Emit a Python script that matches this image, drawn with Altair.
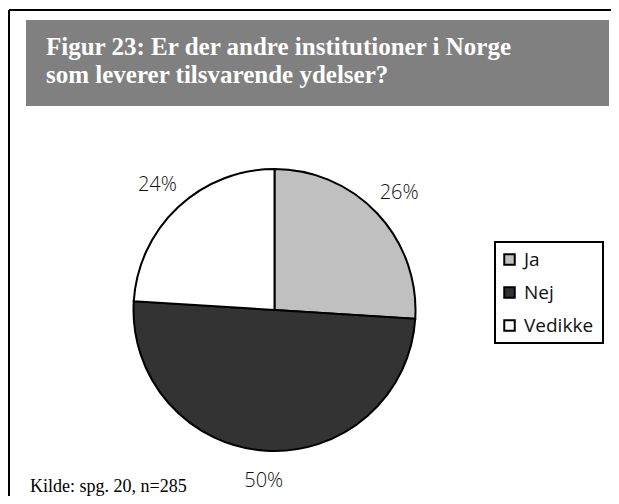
import altair as alt
import pandas as pd

categories = ["Ja", "Nej", "Vedikke"]
values = [26, 50, 24]
labels = ["26%", "50%", "24%"]
colors = ["#c0c0c0", "#333333", "#ffffff"]

title_lines = ["Figur 23: Er der andre institutioner i Norge",
               "som leverer tilsvarende ydelser?"]
source_text = "Kilde: spg. 20, n=285"

df = pd.DataFrame({
    "category": categories,
    "value": values,
    "label": labels,
    "idx": list(range(len(categories))),
})

W, H = 603, 488
CX, CY, R = 266.5, 302, 141

base = alt.Chart(df).encode(
    theta=alt.Theta("value:Q", stack=True),
    order=alt.Order("idx:Q"),
)

pie = base.mark_arc(radius=R, stroke="black", strokeWidth=2).encode(
    x=alt.value(CX),
    y=alt.value(CY),
    color=alt.Color(
        "category:N",
        scale=alt.Scale(domain=categories, range=colors),
        legend=alt.Legend(
            orient="none", legendX=492, legendY=242, title=None,
            symbolType="square", symbolSize=110, symbolStrokeColor="black",
            symbolStrokeWidth=2, symbolOpacity=1,
            labelFont="Open Sans", labelFontSize=19, labelColor="#111111",
            labelOffset=5, rowPadding=13, padding=0,
        ),
    ),
)

pct = base.mark_text(radius=171, font="Open Sans", fontSize=20, fontWeight=300,
                     color="#111111", align="center", baseline="middle").encode(
    x=alt.value(CX),
    y=alt.value(CY),
    text="label:N",
)

one = pd.DataFrame({"k": [0]})

frame_top = alt.Chart(one).mark_rule(color="black", strokeWidth=2).encode(
    x=alt.value(1), x2=alt.value(W + 10), y=alt.value(2), y2=alt.value(2))
frame_left = alt.Chart(one).mark_rule(color="black", strokeWidth=2).encode(
    x=alt.value(1), x2=alt.value(1), y=alt.value(2), y2=alt.value(H + 10))

header = alt.Chart(one).mark_rect(color="#808080").encode(
    x=alt.value(18), x2=alt.value(601), y=alt.value(12), y2=alt.value(98))

title = alt.Chart(one).mark_text(
    text=title_lines, font="Liberation Serif", fontSize=25, fontWeight="bold",
    color="white", align="left", baseline="alphabetic", lineHeight=28,
).encode(x=alt.value(38), y=alt.value(47))

legend_box = alt.Chart(one).mark_rect(fill="white", stroke="black", strokeWidth=2).encode(
    x=alt.value(487), x2=alt.value(595), y=alt.value(234), y2=alt.value(335))

source = alt.Chart(one).mark_text(
    text=source_text, font="Liberation Serif", fontSize=18, color="black",
    align="left", baseline="alphabetic",
).encode(x=alt.value(22), y=alt.value(484))

chart = alt.layer(
    frame_top, frame_left, header, title, legend_box, pie, pct, source
).properties(
    width=W, height=H, autosize=alt.AutoSizeParams(type="none"), padding=0,
).configure_view(stroke=None)

chart.save("out.html", embed_options={"renderer": "svg", "actions": False})
